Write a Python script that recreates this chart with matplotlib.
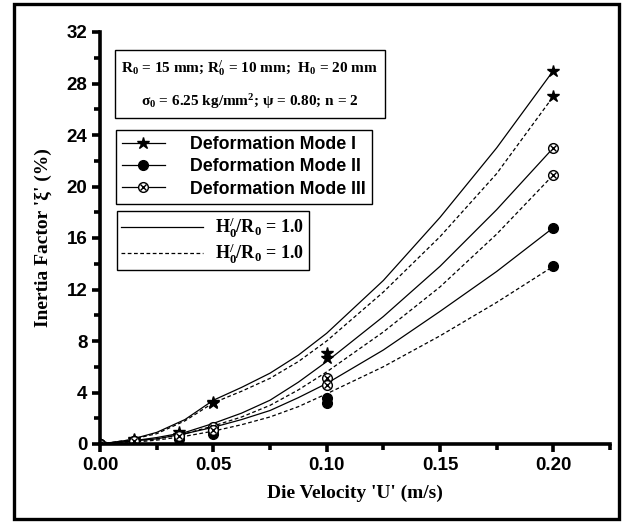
import matplotlib
matplotlib.use("Agg")
import matplotlib.pyplot as plt
from matplotlib.lines import Line2D
from matplotlib.legend_handler import HandlerTuple
from matplotlib.patches import Rectangle
from matplotlib.ticker import MultipleLocator

# measured points (die velocity in m/s, inertia factor in %)
velocity = [0.0, 0.015, 0.035, 0.05, 0.10, 0.20]
mode1_solid_pts = [0.0, 0.35, 0.9, 3.3, 7.1, 29.0]
mode1_dash_pts = [0.0, 0.3, 0.7, 3.2, 6.7, 27.0]
mode2_solid_pts = [0.0, 0.2, 0.6, 1.1, 3.6, 16.8]
mode2_dash_pts = [0.0, 0.1, 0.4, 0.8, 3.2, 13.8]
mode3_solid_pts = [0.0, 0.2, 0.7, 1.3, 5.1, 23.0]
mode3_dash_pts = [0.0, 0.2, 0.6, 1.1, 4.6, 20.9]

# fitted curves
curve_u = [0.0, 0.0125, 0.025, 0.0375, 0.05, 0.0625, 0.075, 0.0875, 0.10,
           0.125, 0.15, 0.175, 0.20]
mode1_solid_curve = [0.0, 0.3, 0.9, 1.9, 3.4, 4.4, 5.5, 6.9, 8.6, 12.7, 17.6, 23.0, 29.0]
mode1_dash_curve = [0.0, 0.3, 0.8, 1.8, 3.2, 4.1, 5.1, 6.4, 8.0, 11.8, 16.1, 21.0, 27.0]
mode3_solid_curve = [0.0, 0.2, 0.5, 0.9, 1.6, 2.4, 3.4, 4.8, 6.4, 9.9, 13.8, 18.2, 23.0]
mode3_dash_curve = [0.0, 0.2, 0.4, 0.8, 1.4, 2.1, 3.0, 4.2, 5.6, 8.7, 12.2, 16.3, 20.9]
mode2_solid_curve = [0.0, 0.2, 0.4, 0.8, 1.3, 1.9, 2.6, 3.6, 4.7, 7.3, 10.3, 13.4, 16.8]
mode2_dash_curve = [0.0, 0.1, 0.3, 0.6, 1.0, 1.5, 2.1, 2.9, 3.9, 6.0, 8.4, 11.0, 13.8]

mode_labels = ["Deformation Mode I", "Deformation Mode II", "Deformation Mode III"]
ratio_labels = [r"H$_0^{/}$/R$_0$ = 1.0", r"H$_0^{/}$/R$_0$ = 1.0"]
param_text = (r"R$_0$ = 15 mm; R$_0^{/}$ = 10 mm;  H$_0$ = 20 mm" "\n"
              r"σ$_0$ = 6.25 kg/mm$^2$; ψ = 0.80; n = 2")

plt.rcParams["mathtext.fontset"] = "custom"
plt.rcParams["mathtext.rm"] = "Liberation Serif:bold"
plt.rcParams["mathtext.it"] = "Liberation Serif:bold"
plt.rcParams["mathtext.bf"] = "Liberation Serif:bold"

SERIF = dict(family="Liberation Serif", weight="bold")
SANS = dict(family="Liberation Sans", weight="bold")
DASH = (0, (3, 2))


def main() -> None:
    fig = plt.figure(figsize=(6.23, 5.23), dpi=100)
    ax = fig.add_axes([100 / 623, 79 / 523, 510 / 623, 412 / 523])

    # curves
    ax.plot(curve_u, mode1_solid_curve, color="k", lw=0.9)
    ax.plot(curve_u, mode1_dash_curve, color="k", lw=0.9, ls=DASH)
    ax.plot(curve_u, mode3_solid_curve, color="k", lw=0.9)
    ax.plot(curve_u, mode3_dash_curve, color="k", lw=0.9, ls=DASH)
    ax.plot(curve_u, mode2_solid_curve, color="k", lw=0.9)
    ax.plot(curve_u, mode2_dash_curve, color="k", lw=0.9, ls=DASH)

    # markers
    for pts in (mode1_solid_pts, mode1_dash_pts):
        ax.plot(velocity, pts, ls="none", marker="*", ms=9, color="k")
    for pts in (mode2_solid_pts, mode2_dash_pts):
        ax.plot(velocity, pts, ls="none", marker="o", ms=7, color="k")
    for pts in (mode3_solid_pts, mode3_dash_pts):
        ax.plot(velocity, pts, ls="none", marker="o", ms=7, mfc="white", mec="k", mew=1)
        ax.plot(velocity, pts, ls="none", marker="x", ms=5, color="k", mew=1)

    ax.set_xlim(0, 0.225)
    ax.set_ylim(0, 32)
    ax.xaxis.set_major_locator(MultipleLocator(0.05))
    ax.xaxis.set_minor_locator(MultipleLocator(0.025))
    ax.yaxis.set_major_locator(MultipleLocator(4))
    ax.yaxis.set_minor_locator(MultipleLocator(2))
    ax.xaxis.set_major_formatter(plt.FuncFormatter(lambda v, p: f"{v:.2f}"))
    ax.spines["top"].set_visible(False)
    ax.spines["right"].set_visible(False)
    for s in ("left", "bottom"):
        ax.spines[s].set_linewidth(2.6)
    ax.tick_params(which="major", direction="out", length=6, width=2.6, pad=3)
    ax.tick_params(which="minor", direction="out", length=4, width=2.6)
    for lab in ax.get_xticklabels() + ax.get_yticklabels():
        lab.set_fontproperties(SANS)
        lab.set_fontsize(13.5)

    ax.set_xlabel("Die Velocity 'U' (m/s)", fontsize=14, labelpad=8, **SERIF)
    ax.set_ylabel("Inertia Factor 'ξ' (%)", fontsize=14, **SERIF)
    ax.yaxis.set_label_coords(-0.095, 0.5)

    # parameter box
    ax.text(0.294, 0.873, param_text, transform=ax.transAxes, ha="center", va="center",
            fontsize=11, linespacing=2.05, **SERIF,
            bbox=dict(boxstyle="square,pad=0.45", fc="white", ec="k", lw=1))

    # mode legend
    h1 = Line2D([], [], color="k", lw=0.9, marker="*", ms=9)
    h2 = Line2D([], [], color="k", lw=0.9, marker="o", ms=7)
    h3a = Line2D([], [], color="k", lw=0.9, marker="o", ms=7, mfc="white", mew=1)
    h3b = Line2D([], [], ls="none", color="k", marker="x", ms=5, mew=1)
    leg1 = ax.legend([h1, h2, (h3a, h3b)], mode_labels, loc="upper left",
                     bbox_to_anchor=(0.031, 0.763), borderaxespad=0,
                     handler_map={tuple: HandlerTuple(ndivide=1, pad=0)},
                     prop=dict(family="Liberation Sans", weight="bold", size=12.8),
                     handlelength=2.4, handletextpad=1.4, labelspacing=0.3,
                     borderpad=0.35, fancybox=False, framealpha=1, edgecolor="k")
    leg1.get_frame().set_linewidth(1)
    ax.add_artist(leg1)

    # line-style legend
    l1 = Line2D([], [], color="k", lw=0.9)
    l2 = Line2D([], [], color="k", lw=0.9, ls=DASH)
    leg2 = ax.legend([l1, l2], ratio_labels, loc="upper left",
                     bbox_to_anchor=(0.033, 0.565), borderaxespad=0,
                     prop=dict(family="Liberation Serif", weight="bold", size=13),
                     handlelength=4.5, handletextpad=0.7, labelspacing=0.05,
                     borderpad=0.25, fancybox=False, framealpha=1, edgecolor="k")
    leg2.get_frame().set_linewidth(1)

    # outer frame of the figure
    fig.patches.append(Rectangle((14 / 623, 4 / 523), 605 / 623, 515 / 523,
                                 transform=fig.transFigure, fill=False,
                                 ec="k", lw=2.4))

    fig.savefig("out.png", dpi=100)
    plt.close(fig)


if __name__ == "__main__":
    main()
